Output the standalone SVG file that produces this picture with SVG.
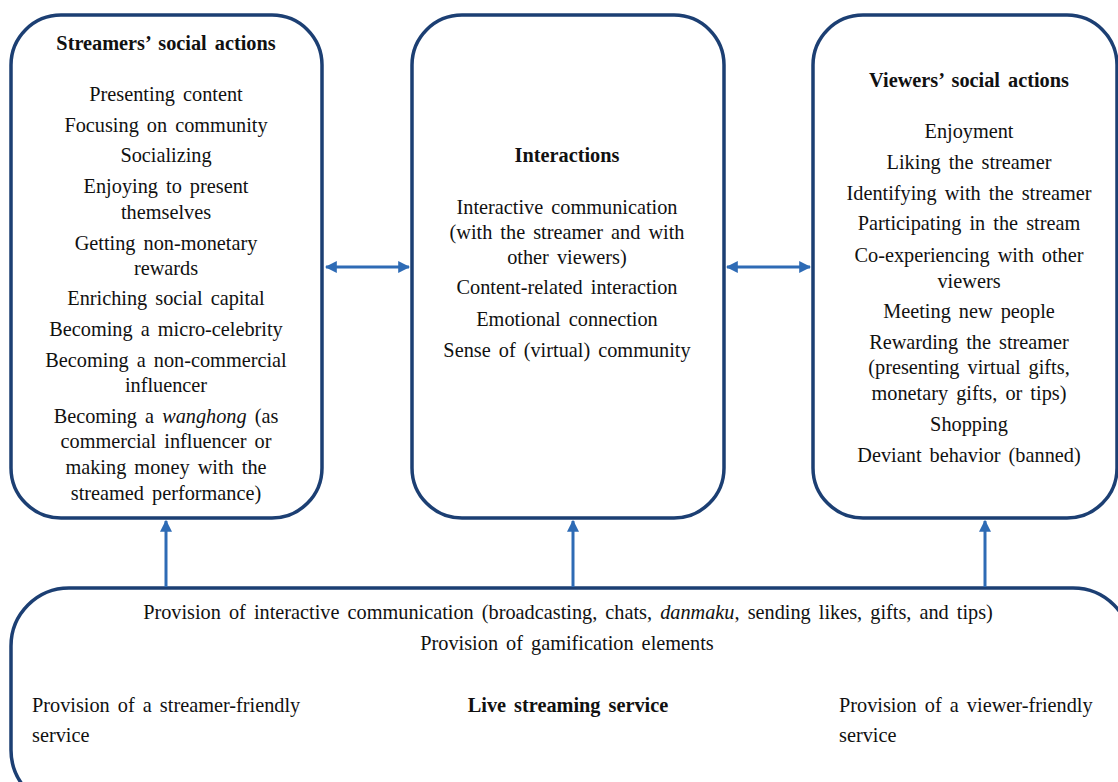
<svg xmlns="http://www.w3.org/2000/svg" width="1118" height="782" viewBox="0 0 1118 782">
  <defs>
    <marker id="arrow" viewBox="0 0 10 10" refX="9" refY="5" markerWidth="4" markerHeight="4" orient="auto-start-reverse" markerUnits="strokeWidth">
      <path d="M0,0 L10,5 L0,10 z" fill="#2e6bb5"/>
    </marker>
    <style>
      .box { fill: #ffffff; stroke: #1c3f73; stroke-width: 3.5; }
      .t { font-family: "Liberation Serif", "Times New Roman", serif; font-size: 20.3px; fill: #111111; word-spacing: 3px; }
      .c { text-anchor: middle; }
      .b { font-weight: bold; }
      .link { stroke: #2e6bb5; stroke-width: 3; fill: none; marker-end: url(#arrow); }
    </style>
  </defs>
  <rect width="1118" height="782" fill="#ffffff"/>

  <!-- Streamers' column -->
  <g id="streamers">
    <rect class="box" x="11" y="15" width="311" height="503" rx="50"/>
    <text class="t c b" x="166" y="50">Streamers’ social actions</text>
    <text class="t c" x="166" y="101">Presenting content</text>
    <text class="t c" x="166" y="132">Focusing on community</text>
    <text class="t c" x="166" y="162">Socializing</text>
    <text class="t c" x="166" y="193">Enjoying to present</text>
    <text class="t c" x="166" y="219">themselves</text>
    <text class="t c" x="166" y="250">Getting non-monetary</text>
    <text class="t c" x="166" y="275">rewards</text>
    <text class="t c" x="166" y="305">Enriching social capital</text>
    <text class="t c" x="166" y="336">Becoming a micro-celebrity</text>
    <text class="t c" x="166" y="367">Becoming a non-commercial</text>
    <text class="t c" x="166" y="392">influencer</text>
    <text class="t c" x="166" y="423">Becoming a <tspan font-style="italic">wanghong</tspan> (as</text>
    <text class="t c" x="166" y="448">commercial influencer or</text>
    <text class="t c" x="166" y="474">making money with the</text>
    <text class="t c" x="166" y="500">streamed performance)</text>
  </g>

  <!-- Interactions column -->
  <g id="interactions">
    <rect class="box" x="412" y="15" width="312" height="503" rx="50"/>
    <text class="t c b" x="567" y="162">Interactions</text>
    <text class="t c" x="567" y="214">Interactive communication</text>
    <text class="t c" x="567" y="239">(with the streamer and with</text>
    <text class="t c" x="567" y="264">other viewers)</text>
    <text class="t c" x="567" y="294">Content-related interaction</text>
    <text class="t c" x="567" y="326">Emotional connection</text>
    <text class="t c" x="567" y="357">Sense of (virtual) community</text>
  </g>

  <!-- Viewers' column -->
  <g id="viewers">
    <rect class="box" x="813" y="15" width="304" height="503" rx="50"/>
    <text class="t c b" x="969" y="87">Viewers’ social actions</text>
    <text class="t c" x="969" y="138">Enjoyment</text>
    <text class="t c" x="969" y="169">Liking the streamer</text>
    <text class="t c" x="969" y="200">Identifying with the streamer</text>
    <text class="t c" x="969" y="230">Participating in the stream</text>
    <text class="t c" x="969" y="262">Co-experiencing with other</text>
    <text class="t c" x="969" y="288">viewers</text>
    <text class="t c" x="969" y="318">Meeting new people</text>
    <text class="t c" x="969" y="349">Rewarding the streamer</text>
    <text class="t c" x="969" y="374">(presenting virtual gifts,</text>
    <text class="t c" x="969" y="400">monetary gifts, or tips)</text>
    <text class="t c" x="969" y="431">Shopping</text>
    <text class="t c" x="969" y="462">Deviant behavior (banned)</text>
  </g>

  <!-- Platform base -->
  <g id="service">
    <rect class="box" x="11" y="588" width="1120" height="220" rx="58"/>
    <text class="t c" x="568" y="619">Provision of interactive communication (broadcasting, chats, <tspan font-style="italic">danmaku</tspan>, sending likes, gifts, and tips)</text>
    <text class="t c" x="567" y="650">Provision of gamification elements</text>
    <text class="t" x="32" y="712">Provision of a streamer-friendly</text>
    <text class="t" x="32" y="742">service</text>
    <text class="t c b" x="568" y="712">Live streaming service</text>
    <text class="t" x="839" y="712">Provision of a viewer-friendly</text>
    <text class="t" x="839" y="742">service</text>
  </g>

  <!-- Connectors -->
  <g id="connectors">
    <line class="link" x1="326" y1="267" x2="409" y2="267" marker-start="url(#arrow)"/>
    <line class="link" x1="727" y1="267" x2="810" y2="267" marker-start="url(#arrow)"/>
    <line class="link" x1="166" y1="587" x2="166" y2="521"/>
    <line class="link" x1="573" y1="587" x2="573" y2="521"/>
    <line class="link" x1="985" y1="587" x2="985" y2="521"/>
  </g>
</svg>
